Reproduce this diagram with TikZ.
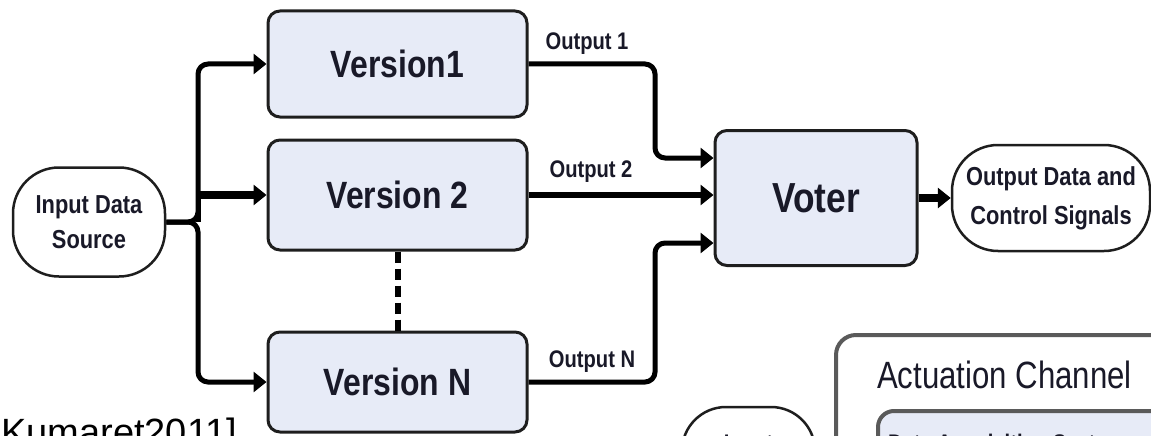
\documentclass[tikz,border=0pt]{standalone}
\usepackage{fontspec}
\setmainfont{Liberation Sans}
\newfontfamily\nb[FakeStretch=0.84]{Liberation Sans Bold}
\newfontfamily\nr[FakeStretch=0.82]{Liberation Sans}
\usetikzlibrary{arrows.meta}
\definecolor{boxfill}{RGB}{231,235,247}
\definecolor{txt}{RGB}{25,25,40}
\definecolor{edge}{RGB}{30,30,30}
\definecolor{grayedge}{RGB}{90,90,90}
\tikzset{
  verbox/.style={draw=edge, line width=3pt, fill=boxfill, rounded corners=12pt, text=txt, inner sep=0pt},
  capsule/.style={draw=edge, line width=2.5pt, fill=white, rounded corners=46pt, text=txt, inner sep=0pt, align=center},
  conn/.style={draw=black, line width=5pt, rounded corners=10pt, -{Triangle[length=13pt,width=20pt]}},
  thickconn/.style={draw=black, line width=8pt, -{Triangle[length=13pt,width=20pt]}},
  outlabel/.style={text=txt, font=\nb\fontsize{24}{26}\selectfont, inner sep=0pt},
}
\begin{document}
\begin{tikzpicture}[x=1pt,y=-1pt]
\useasboundingbox (0,0) rectangle (1151,436);
\clip (0,0) rectangle (1151,436);

% nodes
\node[capsule, minimum width=152pt, minimum height=109pt, font=\nb\fontsize{26}{35}\selectfont] (in) at (89,222) {Input Data\\Source};
\node[verbox, minimum width=259pt, minimum height=106pt, font=\nb\fontsize{38}{40}\selectfont] (v1) at (397.5,64) {Version1};
\node[verbox, minimum width=259pt, minimum height=110pt, font=\nb\fontsize{38}{40}\selectfont] (v2) at (397.5,195) {Version 2};
\node[verbox, minimum width=259pt, minimum height=100pt, font=\nb\fontsize{38}{40}\selectfont] (vN) at (397.5,382) {Version N};
\node[verbox, minimum width=202pt, minimum height=135pt, font=\nb\fontsize{42}{44}\selectfont] (voter) at (816,198) {Voter};
\node[capsule, minimum width=198pt, minimum height=106pt, font=\nb\fontsize{26}{39}\selectfont] (out) at (1051,198) {Output Data and\\Control Signals};

% input distribution
\coordinate (trunk) at (198,222);
\draw[conn] (in.east) -| (trunk |- v1.west) -- (v1.west);
\draw[conn] (in.east) -| (trunk |- vN.west) -- (vN.west);
\draw[line width=5pt] (trunk) -- (trunk |- v2.west);
\draw[thickconn] (trunk |- v2.west) -- (v2.west);

% outputs
\coordinate (c1) at (655,158);
\coordinate (cN) at (655,243);
\draw[conn] (v1.east) -| (c1) -- (c1 -| voter.west);
\draw[conn, line width=6pt] (v2.east) -- (v2.east -| voter.west);
\draw[conn] (vN.east) -| (cN) -- (cN -| voter.west);
\draw[thickconn] (voter.east) -- (out.west);

\node[outlabel] (l1) at (587,44) {Output 1};
\node[outlabel] (l2) at (591,172) {Output 2};
\node[outlabel] (lN) at (592,362) {Output N};

% dotted link between versions
\draw[line width=6pt, dash pattern=on 11pt off 6pt] (v2.south) -- (vN.north);

% bottom-right partial actuation channel
\draw[grayedge, line width=4pt, fill=white, rounded corners=20pt] (836,335) rectangle (1220,520);
\node[anchor=west, text=txt, font=\nr\fontsize{38}{40}\selectfont, inner sep=0pt] (act) at (877,375) {Actuation Channel};
\draw[grayedge, line width=4pt, fill=boxfill, rounded corners=16pt] (878,411) rectangle (1220,520);
\node[anchor=base west, text=txt, font=\nb\fontsize{24}{26}\selectfont, inner sep=0pt] (das) at (888,451) {Data Acquisition System};
\node[capsule, minimum width=133pt, minimum height=110pt, rounded corners=44pt] (in2) at (748.5,462) {};
\node[anchor=base, text=txt, font=\nb\fontsize{24}{26}\selectfont, inner sep=0pt] (in2t) at (748.5,451) {Input};

% citation fragment
\node[anchor=base west, text=black, font=\fontsize{38}{40}\selectfont, inner sep=0pt] (cite) at (1,445) {Kumaret2011]};
\end{tikzpicture}
\end{document}
